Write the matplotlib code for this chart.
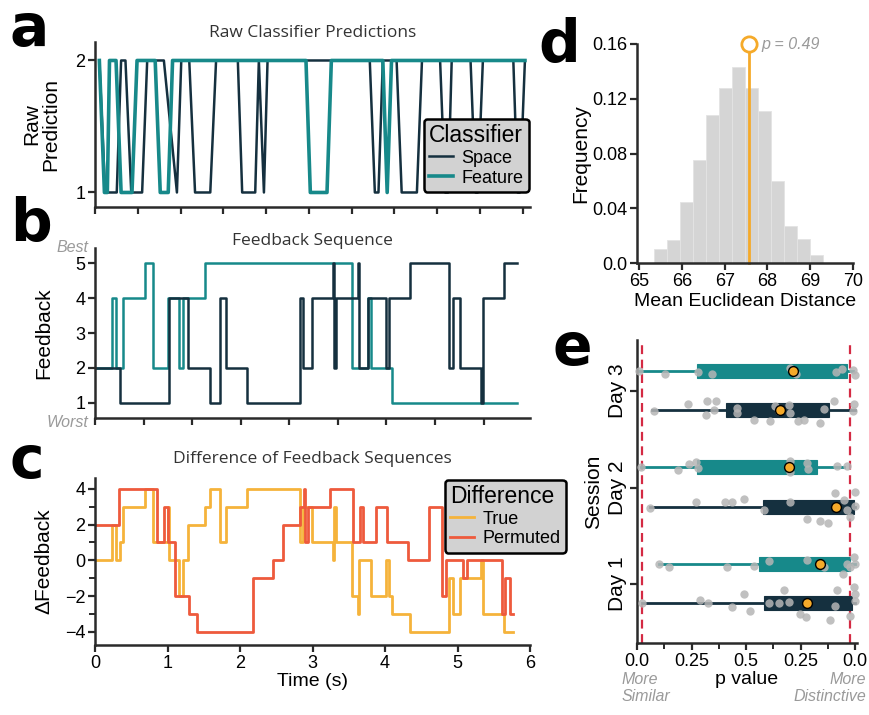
import numpy as np
import matplotlib.pyplot as plt

plt.rcParams['font.family'] = ['Liberation Sans', 'DejaVu Sans']

# colours
SPACE = '#15303f'
FEATURE = '#17898a'
TRUE_C = '#f5b33b'
PERM_C = '#ee5a3c'
GREY = '#9a9a9a'
AX = '#2a2a2a'

# a: raw classifier predictions (time in s, predicted class)
space_raw_t = [0.06, 0.14, 0.30, 0.36, 0.42, 0.50, 0.65, 0.72, 0.95, 1.13, 1.19, 1.30,
               1.38, 1.59, 1.67, 1.97, 2.03, 2.21, 2.26, 2.33, 2.38, 3.79, 3.86, 3.91,
               3.97, 4.16, 4.23, 4.44, 4.51, 4.76, 4.83, 4.87, 4.92, 5.18, 5.25, 5.28,
               5.35, 5.77, 5.83, 5.86, 5.93]
space_raw_v = [2, 1, 1, 2, 2, 1, 1, 2, 2, 1, 2, 2,
               1, 1, 2, 2, 1, 1, 2, 1, 2, 2, 1, 1,
               2, 2, 1, 1, 2, 2, 1, 1, 2, 2, 1, 1,
               2, 2, 1, 1, 2]
feature_raw_t = [0.06, 0.13, 0.17, 0.20, 0.29, 0.36, 0.51, 0.58, 0.83, 0.90, 1.01, 1.07,
                 2.91, 2.97, 3.20, 3.26, 3.97, 4.03, 4.09, 5.93]
feature_raw_v = [2, 1, 1, 2, 2, 1, 1, 2, 2, 1, 1, 2,
                 2, 1, 1, 2, 2, 1, 2, 2]

# b: feedback sequences (time of change, level held until next change)
space_fb_t = [0.02, 0.34, 1.02, 1.28, 1.58, 1.73, 1.80, 2.09, 2.83, 2.87, 2.99, 3.28,
              3.30, 3.33, 3.63, 3.64, 3.77, 4.01, 4.06, 4.35, 4.88, 4.94, 5.04, 5.33,
              5.35, 5.64]
space_fb_v = [2, 1, 4, 2, 1, 4, 2, 1, 4, 2, 4, 5,
              2, 4, 5, 2, 4, 2, 4, 5, 2, 4, 2, 1,
              4, 5]
feature_fb_t = [0.02, 0.23, 0.29, 0.39, 0.69, 0.80, 1.00, 1.16, 1.21, 1.52, 3.54, 3.77,
                3.80, 4.09]
feature_fb_v = [2, 4, 2, 4, 5, 2, 4, 2, 4, 5, 2, 4,
                2, 1]
fb_end = 5.82

# c: permuted difference (time of change, level)
perm_t = [0.02, 0.33, 0.86, 0.95, 1.01, 1.10, 1.30, 1.40, 2.18, 2.46, 2.59, 2.83,
          2.88, 2.90, 2.94, 3.24, 3.56, 3.66, 3.70, 3.88, 4.03, 4.32, 4.60, 4.78,
          4.84, 5.08, 5.13, 5.61, 5.66, 5.72]
perm_v = [2, 4, 1, 3, 1, -2, -3, -4, -1, 0, 2, 3,
          4, 1, 3, 4, 1, 3, 1, 3, 1, 0, 3, -2,
          0, -1, 0, -3, -1, -3]
perm_end = 5.76

# d: null distribution of mean euclidean distance
dist_edges = np.linspace(65.35, 69.31, 14)
dist_freq = [0.010, 0.0165, 0.0445, 0.0755, 0.108, 0.128, 0.143, 0.128, 0.111,
             0.060, 0.027, 0.0175, 0.006]
observed = 67.57
p_obs = 0.49

# e: session p values (Day 1, Day 2, Day 3)
days = ['Day 1', 'Day 2', 'Day 3']
feat_whislo = [0.099, 0.018, 0.008]
feat_q1 = [0.560, 0.275, 0.275]
feat_q3 = [0.977, 0.824, 0.962]
feat_whishi = [1.0, 0.947, 0.99]
feat_mean = [0.840, 0.698, 0.713]
space_whislo = [0.023, 0.061, 0.069]
space_q1 = [0.583, 0.577, 0.409]
space_q3 = [0.985, 0.992, 0.878]
space_whishi = [1.0, 1.0, 1.0]
space_mean = [0.779, 0.911, 0.656]

feat_pts = [
    [0.099, 0.145, 0.412, 0.534, 0.603, 0.779, 0.855, 0.944, 0.962, 0.992, 1.0, 0.977],
    [0.020, 0.186, 0.237, 0.272, 0.278, 0.699, 0.699, 0.779, 0.782, 0.916, 0.962],
    [0.011, 0.127, 0.278, 0.345, 0.702, 0.730, 0.911, 0.937, 0.989, 1.0],
]
feat_jit = [
    [0.0, -0.034, -0.034, -0.017, 0.034, 0.041, -0.034, -0.103, 0.0, 0.069, 0.0, -0.034],
    [0.0, -0.028, 0.034, 0.059, -0.007, 0.069, -0.052, 0.041, -0.017, 0.017, 0.017],
    [0.0, -0.028, -0.007, -0.034, 0.028, -0.034, -0.007, 0.024, 0.007, -0.041],
]
space_pts = [
    [0.023, 0.287, 0.324, 0.435, 0.489, 0.519, 0.603, 0.649, 0.695, 0.672, 0.748, 0.776,
     0.885, 0.908, 0.916, 0.992, 1.0, 1.0, 0.977],
    [0.061, 0.272, 0.405, 0.435, 0.489, 0.580, 0.702, 0.779, 0.840, 0.873, 0.908, 0.947,
     0.962, 0.974, 1.0, 1.0],
    [0.076, 0.232, 0.321, 0.360, 0.318, 0.354, 0.458, 0.458, 0.537, 0.611, 0.634, 0.649,
     0.695, 0.699, 0.736, 0.763, 0.840, 0.855, 0.901, 0.995, 0.990],
]
space_jit = [
    [0.0, 0.034, 0.0, -0.034, 0.097, -0.083, 0.0, 0.0, 0.010, 0.138, -0.110, -0.145,
     -0.172, -0.024, 0.138, 0.166, 0.097, 0.028, -0.128],
    [-0.007, 0.052, 0.052, 0.052, 0.086, -0.034, 0.052, -0.121, -0.145, -0.162, 0.145, 0.069,
     -0.034, -0.103, 0.155, 0.007],
    [-0.007, 0.062, 0.103, 0.103, -0.048, 0.0, 0.028, -0.024, -0.103, -0.110, 0.045, -0.007,
     0.055, -0.024, -0.110, -0.103, -0.128, 0.010, 0.103, 0.062, -0.007],
]


def step_values(t_change, levels, t_query):
    idx = np.searchsorted(t_change, t_query, side='right') - 1
    return np.asarray(levels)[idx]


def style_axis(ax):
    for s in ['top', 'right']:
        ax.spines[s].set_visible(False)
    for s in ['left', 'bottom']:
        ax.spines[s].set_linewidth(1.8)
        ax.spines[s].set_color(AX)
    ax.tick_params(direction='out', length=5, width=1.6, color=AX, labelsize=13, pad=2)
    ax.tick_params(which='minor', direction='out', length=4, width=1.4, color=AX)


def legend_box(ax, title, anchor):
    leg = ax.legend(title=title, loc='upper left', bbox_to_anchor=anchor, fontsize=13,
                    title_fontsize=16.5, handlelength=1.3, handletextpad=0.5,
                    borderpad=0.3, labelspacing=0.15, fancybox=True, framealpha=1)
    leg.get_frame().set_facecolor('#d2d2d2')
    leg.get_frame().set_edgecolor('black')
    leg.get_frame().set_linewidth(1.8)
    leg._legend_box.align = 'left'
    return leg


def panel_title(ax, text, y):
    ax.text(0.5, y, text, transform=ax.transAxes, ha='center', va='center',
            fontsize=12.5, color='#333333', family='Open Sans')


W, H = 870, 715
fig = plt.figure(figsize=(W / 100, H / 100), dpi=100)


def px_axes(x0, y0, x1, y1):
    return fig.add_axes([x0 / W, 1 - y1 / H, (x1 - x0) / W, (y1 - y0) / H])


# ---- a
ax_a = px_axes(95, 42, 530, 207)
ax_a.plot(space_raw_t, space_raw_v, color=SPACE, lw=1.8, label='Space')
ax_a.plot(feature_raw_t, feature_raw_v, color=FEATURE, lw=2.6, label='Feature')
ax_a.set_xlim(0, 6)
ax_a.set_ylim(0.89, 2.14)
ax_a.set_yticks([1, 2])
ax_a.set_xticks(np.arange(11) * 0.59)
ax_a.set_xticklabels([])
ax_a.set_ylabel('Raw\nPrediction', fontsize=15, linespacing=1.0)
ax_a.yaxis.set_label_coords(-0.08, 0.5)
panel_title(ax_a, 'Raw Classifier Predictions', 1.055)
style_axis(ax_a)
legend_box(ax_a, 'Classifier', (0.735, 0.59))

# ---- b
ax_b = px_axes(95, 248, 530, 418)
ax_b.step(feature_fb_t + [fb_end], feature_fb_v + [feature_fb_v[-1]], where='post',
          color=FEATURE, lw=1.8)
ax_b.step(space_fb_t + [fb_end], space_fb_v + [space_fb_v[-1]], where='post',
          color=SPACE, lw=1.8)
ax_b.set_xlim(0, 6)
ax_b.set_ylim(0.57, 5.43)
ax_b.set_yticks([1, 2, 3, 4, 5])
ax_b.set_xticks(np.arange(9) * 0.67)
ax_b.set_xticklabels([])
ax_b.set_ylabel('Feedback', fontsize=15)
ax_b.yaxis.set_label_coords(-0.095, 0.5)
panel_title(ax_b, 'Feedback Sequence', 1.04)
ax_b.text(-0.015, 1.0, 'Best', transform=ax_b.transAxes, ha='right', va='center',
          style='italic', color=GREY, fontsize=11.5)
ax_b.text(-0.015, -0.025, 'Worst', transform=ax_b.transAxes, ha='right', va='center',
          style='italic', color=GREY, fontsize=11.5)
style_axis(ax_b)

# ---- c
ax_c = px_axes(95, 478, 530, 645)
grid_t = np.union1d(space_fb_t, feature_fb_t)
true_v = step_values(feature_fb_t, feature_fb_v, grid_t) - step_values(space_fb_t, space_fb_v, grid_t)
ax_c.step(list(grid_t) + [fb_end - 0.06], list(true_v) + [true_v[-1]], where='post',
          color=TRUE_C, lw=2.0, label='True')
ax_c.step(perm_t + [perm_end], perm_v + [perm_v[-1]], where='post',
          color=PERM_C, lw=2.0, label='Permuted')
ax_c.set_xlim(0, 6)
ax_c.set_ylim(-4.73, 4.6)
ax_c.set_yticks([-4, -2, 0, 2, 4])
ax_c.set_yticks([-3, -1, 1, 3], minor=True)
ax_c.set_xticks(range(7))
ax_c.set_xlabel('Time (s)', fontsize=14, labelpad=1)
ax_c.set_ylabel('\u0394Feedback', fontsize=15)
ax_c.yaxis.set_label_coords(-0.095, 0.5)
panel_title(ax_c, 'Difference of Feedback Sequences', 1.115)
style_axis(ax_c)
legend_box(ax_c, 'Difference', (0.783, 1.045))

# ---- d
ax_d = px_axes(637, 44, 853, 263)
ax_d.hist(dist_edges[:-1], bins=dist_edges, weights=dist_freq, color='#d5d5d5',
          edgecolor='#e4e4e4', linewidth=0.6)
ax_d.plot([observed, observed], [0, 0.16], color='#f5aa2a', lw=2, clip_on=False)
ax_d.plot([observed], [0.16], 'o', ms=11, mfc='white', mec='#f5aa2a', mew=2,
          clip_on=False, zorder=5)
ax_d.text(observed + 0.3, 0.16, f'p = {p_obs}', style='italic', color=GREY,
          fontsize=11.5, va='center')
ax_d.set_xlim(64.95, 70)
ax_d.set_ylim(0, 0.16)
ax_d.set_xticks(range(65, 71))
ax_d.set_yticks([0, 0.04, 0.08, 0.12, 0.16])
ax_d.set_yticklabels(['0.0', '0.04', '0.08', '0.12', '0.16'])
ax_d.set_xlabel('Mean Euclidean Distance', fontsize=14, labelpad=2)
ax_d.set_ylabel('Frequency', fontsize=15)
ax_d.yaxis.set_label_coords(-0.215, 0.5)
style_axis(ax_d)

# ---- e
ax_e = px_axes(637, 340, 857, 643)
pos = np.arange(1, 4)
for off, color, lo, q1, q3, hi, mean in [
        (0.21, FEATURE, feat_whislo, feat_q1, feat_q3, feat_whishi, feat_mean),
        (-0.20, SPACE, space_whislo, space_q1, space_q3, space_whishi, space_mean)]:
    stats = [dict(whislo=lo[i], q1=q1[i], med=mean[i], q3=q3[i], whishi=hi[i], fliers=[])
             for i in range(3)]
    ax_e.bxp(stats, positions=pos + off, widths=0.145, orientation='horizontal',
             patch_artist=True, showcaps=False, showfliers=False,
             boxprops=dict(facecolor=color, edgecolor=color, linewidth=0.8),
             whiskerprops=dict(color=color, linewidth=2),
             medianprops=dict(linewidth=0))
for i in range(3):
    ax_e.scatter(feat_pts[i], pos[i] + 0.21 + np.array(feat_jit[i]), s=36,
                 color='#b5b5b5', alpha=0.85, lw=0, zorder=3, clip_on=False)
    ax_e.scatter(space_pts[i], pos[i] - 0.20 + np.array(space_jit[i]), s=36,
                 color='#b5b5b5', alpha=0.85, lw=0, zorder=3, clip_on=False)
ax_e.scatter(feat_mean, pos + 0.21, s=50, color='#f5aa2a', edgecolor='black', lw=1, zorder=4)
ax_e.scatter(space_mean, pos - 0.20, s=50, color='#f5aa2a', edgecolor='black', lw=1, zorder=4)
for xv in [0.025, 0.975]:
    ax_e.axvline(xv, color='#d42a43', ls=(0, (4, 2.5)), lw=1.6, zorder=1)
ax_e.set_xlim(0, 1.008)
ax_e.set_ylim(0.39, 3.53)
ax_e.set_yticks(pos)
ax_e.set_yticklabels(days, rotation=90, va='center', fontsize=15)
ax_e.set_xticks([0, 0.25, 0.5, 0.75, 1.0])
ax_e.set_xticklabels(['0.0', '0.25', '0.5', '0.25', '0.0'])
ax_e.set_xticks([0.125, 0.375, 0.625, 0.875], minor=True)
ax_e.set_xlabel('p value', fontsize=14, labelpad=1)
ax_e.set_ylabel('Session', fontsize=15, labelpad=4)
style_axis(ax_e)
ax_e.tick_params(axis='y', labelsize=15)
fig.text(622 / W, 1 - 688 / H, 'More\nSimilar', style='italic', color=GREY,
         fontsize=11.5, ha='left', va='center', linespacing=1.15)
fig.text(866 / W, 1 - 688 / H, 'More\nDistinctive', style='italic', color=GREY,
         fontsize=11.5, ha='right', va='center', linespacing=1.15, multialignment='right')

# panel letters
for letter, x, y in [('a', 10, 46), ('b', 10, 241), ('c', 10, 478), ('d', 538, 62), ('e', 553, 365)]:
    fig.text(x / W, 1 - y / H, letter, fontsize=42, fontweight='heavy',
             family='DejaVu Sans', ha='left', va='baseline')

fig.savefig('out.png', dpi=100)
